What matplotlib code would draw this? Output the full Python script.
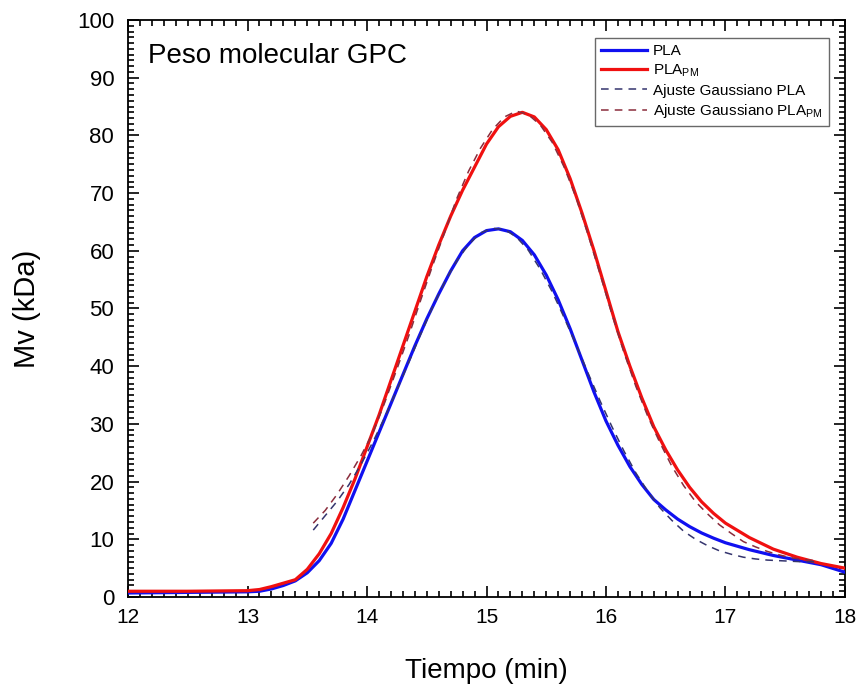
import numpy as np
import matplotlib
matplotlib.use('Agg')
import matplotlib.pyplot as plt
from matplotlib.ticker import MultipleLocator

plt.rcParams['font.family'] = ['Liberation Sans', 'DejaVu Sans']
plt.rcParams['mathtext.default'] = 'regular'

#PLA measured curve
pla_x = [12.0, 12.5, 13.0, 13.1, 13.2, 13.3, 13.4, 13.5, 13.6, 13.7, 13.8, 13.9,
         14.0, 14.1, 14.2, 14.3, 14.4, 14.5, 14.6, 14.7, 14.8, 14.9,
         15.0, 15.1, 15.2, 15.3, 15.4, 15.5, 15.6, 15.7, 15.8, 15.9,
         16.0, 16.1, 16.2, 16.3, 16.4, 16.5, 16.6, 16.7, 16.8, 16.9,
         17.0, 17.2, 17.4, 17.6, 17.8, 18.0]
pla_y = [0.7, 0.8, 0.9, 1.0, 1.4, 2.0, 2.8, 4.2, 6.3, 9.3, 13.5, 18.5,
         23.5, 28.5, 33.5, 38.5, 43.5, 48.2, 52.5, 56.5, 60.0, 62.3,
         63.5, 63.8, 63.3, 61.8, 59.3, 55.8, 51.5, 46.5, 41.0, 35.5,
         30.5, 26.3, 22.6, 19.5, 16.9, 15.1, 13.5, 12.2, 11.1, 10.2,
         9.4, 8.2, 7.2, 6.4, 5.6, 4.3]

#PLA_PM measured curve
plapm_x = pla_x
plapm_y = [1.0, 1.0, 1.1, 1.3, 1.8, 2.4, 3.0, 4.8, 7.5, 11.0, 15.5, 20.5,
           26.0, 31.5, 37.5, 43.5, 49.5, 55.5, 61.0, 66.0, 70.5, 74.5,
           78.5, 81.5, 83.3, 84.0, 83.2, 81.0, 77.5, 72.5, 66.5, 60.0,
           53.0, 46.0, 40.0, 34.5, 29.5, 25.5, 22.0, 19.0, 16.5, 14.5,
           12.8, 10.3, 8.3, 6.9, 5.8, 5.0]

#Gaussian fits
fit_x = [13.55, 13.65, 13.75, 13.85, 13.95, 14.05, 14.15, 14.25, 14.35, 14.45,
         14.55, 14.65, 14.75, 14.85, 14.95, 15.05, 15.15, 15.25, 15.35, 15.45,
         15.55, 15.65, 15.75, 15.85, 15.95, 16.05, 16.15, 16.25, 16.35, 16.45,
         16.55, 16.65, 16.75, 16.85, 16.95, 17.05, 17.15, 17.25, 17.35, 17.45,
         17.55, 17.65, 17.75]
fit_pla_y = [11.6, 14.1, 16.6, 19.5, 23.0, 26.9, 31.2, 35.9, 40.7, 45.6,
             50.3, 54.6, 58.2, 61.1, 63.1, 63.9, 63.7, 62.4, 60.1, 56.8,
             52.9, 48.4, 43.7, 38.8, 34.0, 29.5, 25.3, 21.5, 18.3, 15.5,
             13.3, 11.4, 10.0, 8.9, 8.0, 7.4, 6.9, 6.6, 6.4, 6.3,
             6.2, 6.1, 6.1]
fit_plapm_y = [12.8, 15.0, 17.8, 21.0, 24.5, 28.5, 33.8, 39.5, 45.3, 51.5,
               57.5, 63.2, 69.0, 73.8, 77.8, 81.0, 83.2, 84.2, 83.6, 81.8,
               78.8, 74.5, 69.2, 62.8, 56.0, 49.0, 42.4, 36.5, 31.3, 26.8,
               22.7, 19.3, 16.5, 14.4, 12.5, 11.0, 9.6, 8.7, 7.9, 7.3,
               6.8, 6.5, 6.3]

fig = plt.figure(figsize=(8.61, 6.89), dpi=100)
ax = fig.add_axes([0.1487, 0.1335, 0.8327, 0.8375])

ax.plot(pla_x, pla_y, color='#1010f0', lw=2.3, label='PLA', zorder=3)
ax.plot(plapm_x, plapm_y, color='#f01010', lw=2.3, label='PLA$_{PM}$', zorder=3)
ax.plot(fit_x, fit_pla_y, color='#34346e', lw=1.1, ls=(0, (5, 4)),
        label='Ajuste Gaussiano PLA', zorder=4)
ax.plot(fit_x, fit_plapm_y, color='#8a2c3c', lw=1.1, ls=(0, (5, 4)),
        label='Ajuste Gaussiano PLA$_{PM}$', zorder=4)

ax.set_xlim(12, 18)
ax.set_ylim(0, 100)
ax.xaxis.set_major_locator(MultipleLocator(1))
ax.xaxis.set_minor_locator(MultipleLocator(0.1))
ax.yaxis.set_major_locator(MultipleLocator(10))
ax.yaxis.set_minor_locator(MultipleLocator(1))
ax.tick_params(which='both', direction='in', top=True, right=True, width=1.2)
ax.tick_params(which='major', length=8)
ax.tick_params(axis='x', which='major', labelsize=15, pad=8)
ax.tick_params(axis='y', which='major', labelsize=16, pad=10)
ax.tick_params(which='minor', length=4)
for s in ax.spines.values():
    s.set_linewidth(1.3)

ax.set_xlabel('Tiempo (min)', fontsize=20, labelpad=22)
ax.set_ylabel('Mv (kDa)', fontsize=21, labelpad=26)
ax.text(0.028, 0.96, 'Peso molecular GPC', transform=ax.transAxes,
        fontsize=20, va='top', ha='left')

leg = ax.legend(loc='upper right', bbox_to_anchor=(0.9777, 0.969), fontsize=11,
                frameon=True, fancybox=False, handlelength=3.0, borderaxespad=0,
                borderpad=0.4, labelspacing=0.3, handletextpad=0.4)
leg.get_frame().set_edgecolor('#444444')
leg.get_frame().set_linewidth(1.0)

fig.savefig('out.png', dpi=100)
